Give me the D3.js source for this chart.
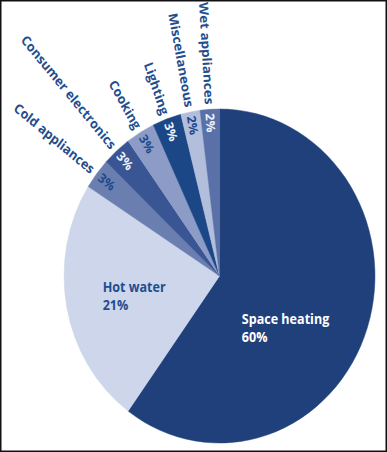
<!DOCTYPE html>
<html>
<head>
<meta charset="utf-8">
<script src="https://cdn.jsdelivr.net/npm/d3@7"></script>
<style>
  html, body { margin: 0; padding: 0; background: #fff; }
  svg { display: block; }
  text { font-family: "Open Sans", "Noto Sans", sans-serif; font-weight: 700; }
</style>
</head>
<body>
<div id="chart"></div>
<script>
// ---- data ----
const categories = ["Space heating", "Hot water", "Cold appliances", "Consumer electronics",
                    "Cooking", "Lighting", "Miscellaneous", "Wet appliances"];
// slice shares as drawn in the picture (degrees of the circle / 3.6)
const shares = [60, 24, 3, 3, 3, 3, 2, 2];
// percentages as printed on the chart
const percentLabels = ["60%", "21%", "3%", "3%", "3%", "3%", "2%", "2%"];

// ---- style ----
const colors = ["#1f407b", "#cdd6ea", "#6a7fb0", "#3a5594", "#8d9cc6", "#1b4787", "#b2bedc", "#5a70a8"];
const pctColors = ["#ffffff", "#1f4b8c", "#1f4b8c", "#eef2fb", "#1f4b8c", "#eef2fb", "#1f4b8c", "#eef2fb"];
const labelColor = "#1f4e8f";

const W = 387, H = 452;
const cx = 219.5, cy = 276, R = 167, squeeze = 0.931;

const svg = d3.select("#chart").append("svg")
  .attr("width", W).attr("height", H);

svg.append("rect").attr("width", W).attr("height", H).attr("fill", "#fff");

const g = svg.append("g")
  .attr("transform", `translate(${cx},${cy}) scale(${squeeze},1)`);

const data = categories.map((c, i) => ({ name: c, share: shares[i], pct: percentLabels[i], i }));

const pie = d3.pie().sort(null).value(d => d.share);
const arcs = pie(data);
const arc = d3.arc().innerRadius(0).outerRadius(R);

g.selectAll("path.slice").data(arcs).enter().append("path")
  .attr("class", "slice")
  .attr("d", arc)
  .attr("fill", d => colors[d.data.i])
  .attr("stroke", d => colors[d.data.i])
  .attr("stroke-width", 0.5);

// small slices: radial labels outside, percentages inside
const small = arcs.filter(d => d.data.i >= 2);
const deg = a => a * 180 / Math.PI;

g.selectAll("text.outer").data(small).enter().append("text")
  .attr("class", "outer")
  .attr("transform", d => `rotate(${deg((d.startAngle + d.endAngle) / 2)}) translate(0,${-(R + 5)}) rotate(90)`)
  .attr("text-anchor", "end")
  .attr("dy", "0.36em")
  .attr("font-size", 13.5)
  .attr("fill", labelColor)
  .text(d => d.data.name);

g.selectAll("text.pct").data(small).enter().append("text")
  .attr("class", "pct")
  .attr("transform", d => `rotate(${deg((d.startAngle + d.endAngle) / 2)}) translate(0,${-(R - 4)}) rotate(90)`)
  .attr("text-anchor", "start")
  .attr("dy", "0.36em")
  .attr("font-size", 13)
  .attr("font-weight", 700)
  .attr("fill", d => pctColors[d.data.i])
  .text(d => d.data.pct);

// big slices: two-line labels, placed relative to each slice's centroid
const mainOffsets = [
  { dx: -65, dy: 19 },   // Space heating
  { dx: -32, dy: -2 }    // Hot water
];
const mainRadius = [0.56, 0.57];
arcs.filter(d => d.data.i < 2).forEach(d => {
  const i = d.data.i;
  const mid = (d.startAngle + d.endAngle) / 2;
  const rr = R * mainRadius[i];
  const px = rr * Math.sin(mid), py = -rr * Math.cos(mid);
  const t = g.append("text")
    .attr("font-size", 13.5)
    .attr("fill", i === 0 ? "#ffffff" : labelColor);
  t.append("tspan").attr("x", px + mainOffsets[i].dx).attr("y", py + mainOffsets[i].dy).text(d.data.name);
  t.append("tspan").attr("x", px + mainOffsets[i].dx).attr("y", py + mainOffsets[i].dy + 18.5).text(d.data.pct);
});

// frame
svg.append("rect")
  .attr("x", 0.75).attr("y", 0.75)
  .attr("width", W - 1.5).attr("height", H - 1.5)
  .attr("fill", "none").attr("stroke", "#111").attr("stroke-width", 1.5);
</script>
</body>
</html>
